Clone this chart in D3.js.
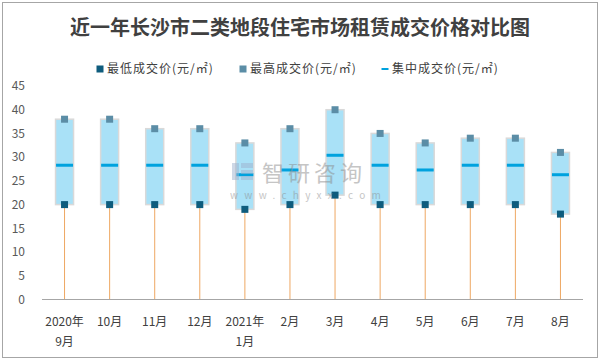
<!DOCTYPE html>
<html>
<head>
<meta charset="utf-8">
<script src="https://cdn.jsdelivr.net/npm/d3@7"></script>
<style>
  body { margin: 0; background: #fff; }
  svg { display: block; font-family: "Noto Sans CJK SC", "DejaVu Sans", sans-serif; }
</style>
</head>
<body>
<div id="chart"></div>
<script>
// 데이터
const months = ["2020年|9月", "10月", "11月", "12月", "2021年|1月", "2月", "3月", "4月", "5月", "6月", "7月", "8月"];
const lowPrice = [20, 20, 20, 20, 19, 20, 22, 20, 20, 20, 20, 18];
const highPrice = [38, 38, 36, 36, 33, 36, 40, 35, 33, 34, 34, 31];
const midPrice = [28.3, 28.3, 28.3, 28.3, 26.3, 27.3, 30.4, 28.3, 27.3, 28.3, 28.3, 26.3];
const yTicks = [0, 5, 10, 15, 20, 25, 30, 35, 40, 45];
const seriesNames = ["最低成交价(元/㎡)", "最高成交价(元/㎡)", "集中成交价(元/㎡)"];

const W = 601, H = 362;
const lowColor = "#0e5c7d", highColor = "#5b8da6", midColor = "#00a2de";

const svg = d3.select("#chart").append("svg")
  .attr("width", W)
  .attr("height", H);

// 외곽 테두리
svg.append("rect")
  .attr("x", 2.5).attr("y", 2.5)
  .attr("width", 595).attr("height", 355)
  .attr("fill", "#fff")
  .attr("stroke", "#a6a6a6");

// 제목
svg.append("text")
  .attr("x", 300).attr("y", 35)
  .attr("text-anchor", "middle")
  .attr("fill", "#404040")
  .style("font-size", "20px")
  .style("font-weight", "bold")
  .text("近一年长沙市二类地段住宅市场租赁成交价格对比图");

const x = d3.scaleBand().domain(months).range([42, 583]);
const y = d3.scaleLinear().domain([0, 45]).range([299.5, 86]);

const data = months.map((m, i) => ({ m, low: lowPrice[i], high: highPrice[i], mid: midPrice[i] }));

// y 축 라벨
svg.append("g")
  .selectAll("text")
  .data(yTicks)
  .enter().append("text")
  .attr("x", 25)
  .attr("y", d => y(d))
  .attr("dy", "0.35em")
  .attr("text-anchor", "end")
  .attr("fill", "#595959")
  .style("font-size", "12px")
  .text(d => d);

const cx = d => x(d.m) + x.bandwidth() / 2;

// 오렌지 보조라인
svg.append("g")
  .selectAll("line")
  .data(data)
  .enter().append("line")
  .attr("x1", cx).attr("x2", cx)
  .attr("y1", d => y(d.low))
  .attr("y2", y(0))
  .attr("stroke", "#eea863")
  .attr("stroke-width", 1);

// 박스
const boxW = 18;
svg.append("g")
  .selectAll("rect")
  .data(data)
  .enter().append("rect")
  .attr("x", d => cx(d) - boxW / 2)
  .attr("y", d => y(d.high))
  .attr("width", boxW)
  .attr("height", d => y(d.low) - y(d.high))
  .attr("fill", "#a9e1f7")
  .attr("stroke", "#d9d9d9")
  .attr("stroke-width", 1.5);

// 집중 성교가 라인
svg.append("g")
  .selectAll("rect")
  .data(data)
  .enter().append("rect")
  .attr("x", d => cx(d) - 8.5)
  .attr("y", d => y(d.mid) - 1.5)
  .attr("width", 17)
  .attr("height", 3)
  .attr("fill", midColor);

// x 축
svg.append("line")
  .attr("x1", 42).attr("x2", 583)
  .attr("y1", y(0)).attr("y2", y(0))
  .attr("stroke", "#a6a6a6")
  .attr("stroke-width", 1.2);

// 마커
const mk = 7;
svg.append("g")
  .selectAll("rect")
  .data(data)
  .enter().append("rect")
  .attr("x", d => cx(d) - mk / 2)
  .attr("y", d => y(d.high) - mk / 2)
  .attr("width", mk).attr("height", mk)
  .attr("fill", highColor);

svg.append("g")
  .selectAll("rect")
  .data(data)
  .enter().append("rect")
  .attr("x", d => cx(d) - mk / 2)
  .attr("y", d => y(d.low) - mk / 2)
  .attr("width", mk).attr("height", mk)
  .attr("fill", lowColor);

// 워터마크 (그래프 위)
const wm = svg.append("g").attr("opacity", 0.5);
wm.append("rect").attr("x", 232).attr("y", 163).attr("width", 7).attr("height", 17).attr("fill", "#9fb3cf");
wm.append("rect").attr("x", 241).attr("y", 163).attr("width", 12).attr("height", 5).attr("fill", "#9fb3cf");
wm.append("rect").attr("x", 241).attr("y", 170).attr("width", 12).attr("height", 4).attr("fill", "#9fb3cf");
wm.append("rect").attr("x", 241).attr("y", 176).attr("width", 12).attr("height", 4).attr("fill", "#9fb3cf");
wm.append("text")
  .attr("x", 262).attr("y", 181)
  .attr("fill", "#8c8c8c")
  .style("font-size", "22px")
  .style("letter-spacing", "4px")
  .text("智研咨询");
wm.append("text")
  .attr("x", 230).attr("y", 199)
  .attr("fill", "#8c8c8c")
  .style("font-size", "10px")
  .style("letter-spacing", "6.3px")
  .text("www.chyxx.com");

// x 축 라벨
const xl = svg.append("g")
  .selectAll("text")
  .data(months)
  .enter().append("text")
  .attr("x", d => x(d) + x.bandwidth() / 2)
  .attr("y", 326)
  .attr("text-anchor", "middle")
  .attr("fill", "#404040")
  .style("font-size", "12px");
xl.each(function(d) {
  const parts = d.split("|");
  parts.forEach((p, i) => {
    d3.select(this).append("tspan")
      .attr("x", x(d) + x.bandwidth() / 2)
      .attr("dy", i === 0 ? 0 : 20)
      .text(p);
  });
});

// 범례
const legendX = [100, 243, 385];
const lg = svg.append("g");
seriesNames.forEach((name, i) => {
  if (i < 2) {
    lg.append("rect")
      .attr("x", legendX[i] - 3.5).attr("y", 65.5)
      .attr("width", 7).attr("height", 7)
      .attr("fill", i === 0 ? lowColor : highColor);
  } else {
    lg.append("rect")
      .attr("x", legendX[i] - 3.5).attr("y", 68)
      .attr("width", 7).attr("height", 2)
      .attr("fill", midColor);
  }
  lg.append("text")
    .attr("x", legendX[i] + 7)
    .attr("y", 69)
    .attr("dy", "0.35em")
    .attr("fill", "#404040")
    .style("font-size", "12px")
    .style("letter-spacing", "1px")
    .text(name);
});
</script>
</body>
</html>
